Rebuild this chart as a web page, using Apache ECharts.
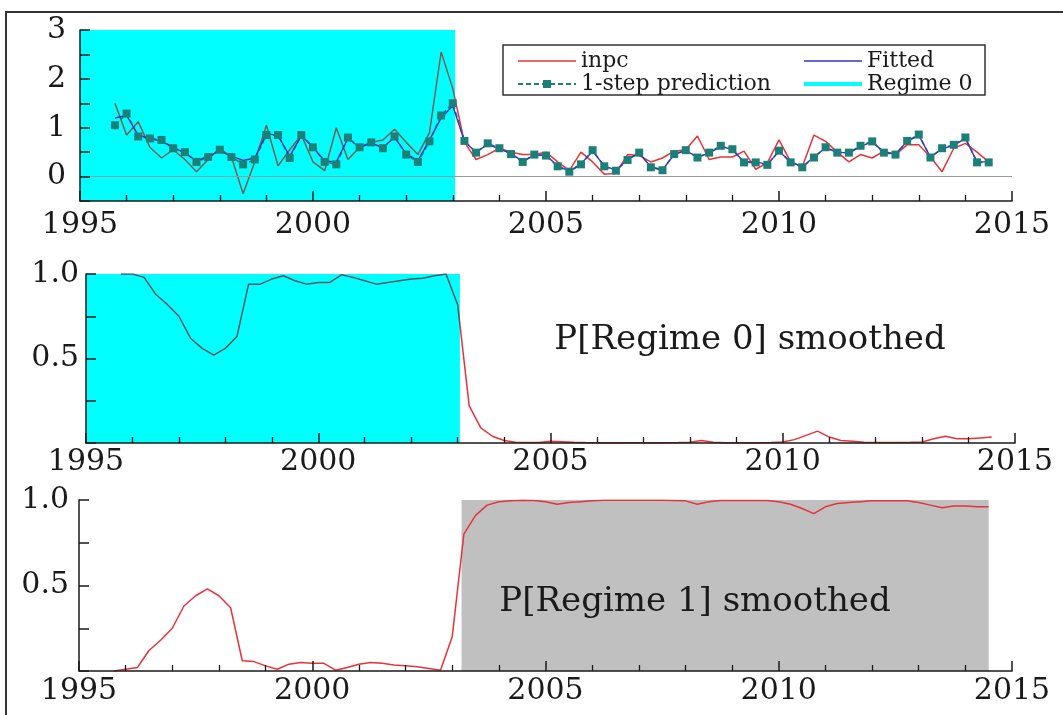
<!DOCTYPE html>
<html>
<head>
<meta charset="utf-8">
<title>inpc - regime switching</title>
<script src="https://cdn.jsdelivr.net/npm/echarts@6.0.0/dist/echarts.min.js"></script>
<style>
  html, body { margin: 0; padding: 0; background: #fff; }
  #chart { width: 1063px; height: 715px; }
</style>
</head>
<body>
<div id="chart"></div>
<script>
// quarterly observations, 1995(4) .. 2014(3)
const quarters = [
  1995.75,
  1996, 1996.25, 1996.5, 1996.75, 1997, 1997.25, 1997.5, 1997.75,
  1998, 1998.25, 1998.5, 1998.75, 1999, 1999.25, 1999.5, 1999.75,
  2000, 2000.25, 2000.5, 2000.75, 2001, 2001.25, 2001.5, 2001.75,
  2002, 2002.25, 2002.5, 2002.75, 2003, 2003.25, 2003.5, 2003.75,
  2004, 2004.25, 2004.5, 2004.75, 2005, 2005.25, 2005.5, 2005.75,
  2006, 2006.25, 2006.5, 2006.75, 2007, 2007.25, 2007.5, 2007.75,
  2008, 2008.25, 2008.5, 2008.75, 2009, 2009.25, 2009.5, 2009.75,
  2010, 2010.25, 2010.5, 2010.75, 2011, 2011.25, 2011.5, 2011.75,
  2012, 2012.25, 2012.5, 2012.75, 2013, 2013.25, 2013.5, 2013.75,
  2014, 2014.25, 2014.5
];

const inpc = [
  1.5,
  0.85, 1.12, 0.6, 0.38, 0.55, 0.35, 0.1, 0.35,
  0.58, 0.4, -0.35, 0.3, 1.05, 0.22, 0.55, 0.85,
  0.3, 0.12, 1.0, 0.35, 0.6, 0.7, 0.75, 0.97,
  0.7, 0.45, 0.9, 2.55, 1.8, 0.7, 0.35, 0.45,
  0.58, 0.5, 0.45, 0.45, 0.5, 0.3, 0.12, 0.5,
  0.3, 0.05, 0.07, 0.45, 0.43, 0.3, 0.38, 0.52,
  0.55, 0.83, 0.35, 0.4, 0.4, 0.52, 0.15, 0.28,
  0.75, 0.3, 0.2, 0.85, 0.72, 0.5, 0.3, 0.45,
  0.38, 0.52, 0.45, 0.65, 0.65, 0.4, 0.1, 0.58,
  0.68, 0.5, 0.3
];

const fitted = [
  1.2,
  1.25, 0.85, 0.78, 0.72, 0.6, 0.48, 0.32, 0.42,
  0.52, 0.42, 0.33, 0.38, 0.88, 0.84, 0.42, 0.84,
  0.6, 0.32, 0.3, 0.78, 0.6, 0.68, 0.6, 0.8,
  0.47, 0.32, 0.75, 1.2, 1.45, 0.72, 0.5, 0.66,
  0.57, 0.47, 0.31, 0.44, 0.43, 0.22, 0.11, 0.26,
  0.52, 0.22, 0.13, 0.35, 0.48, 0.2, 0.14, 0.45,
  0.53, 0.4, 0.48, 0.62, 0.55, 0.3, 0.3, 0.25,
  0.52, 0.3, 0.2, 0.4, 0.59, 0.5, 0.48, 0.62,
  0.71, 0.5, 0.46, 0.72, 0.84, 0.4, 0.57, 0.64,
  0.78, 0.3, 0.3
];

const prediction = [
  1.05,
  1.29, 0.82, 0.78, 0.75, 0.58, 0.5, 0.3, 0.4,
  0.55, 0.4, 0.25, 0.35, 0.85, 0.85, 0.38, 0.85,
  0.6, 0.3, 0.25, 0.8, 0.6, 0.7, 0.58, 0.82,
  0.45, 0.3, 0.72, 1.25, 1.5, 0.73, 0.49, 0.68,
  0.58, 0.46, 0.3, 0.45, 0.43, 0.21, 0.1, 0.25,
  0.54, 0.21, 0.12, 0.34, 0.49, 0.19, 0.13, 0.46,
  0.54, 0.39, 0.49, 0.63, 0.56, 0.29, 0.29, 0.24,
  0.53, 0.29, 0.19, 0.39, 0.6, 0.49, 0.49, 0.63,
  0.72, 0.49, 0.45, 0.73, 0.86, 0.39, 0.58, 0.65,
  0.8, 0.29, 0.29
];

const probRegime0 = [
  1.0,
  1.0, 0.98, 0.88, 0.82, 0.75, 0.62, 0.56, 0.52,
  0.56, 0.63, 0.94, 0.94, 0.97, 0.99, 0.96, 0.94,
  0.95, 0.95, 0.995, 0.98, 0.96, 0.94, 0.95, 0.96,
  0.97, 0.975, 0.99, 1.0, 0.82, 0.22, 0.09, 0.04,
  0.015, 0.005, 0.003, 0.003, 0.01, 0.008, 0.005, 0.003,
  0.002, 0.002, 0.002, 0.002, 0.002, 0.002, 0.002, 0.003,
  0.005, 0.015, 0.004, 0.002, 0.002, 0.002, 0.002, 0.003,
  0.006, 0.02, 0.045, 0.07, 0.035, 0.015, 0.01, 0.005,
  0.003, 0.003, 0.003, 0.004, 0.006, 0.025, 0.04, 0.025,
  0.025, 0.03, 0.035
];

const probRegime1 = [
  0.0,
  0.01, 0.02, 0.12, 0.18, 0.25, 0.38, 0.44, 0.48,
  0.44, 0.37, 0.06, 0.055, 0.03, 0.01, 0.04, 0.05,
  0.045, 0.045, 0.005, 0.02, 0.04, 0.05, 0.045, 0.035,
  0.03, 0.025, 0.015, 0.005, 0.2, 0.8, 0.91, 0.97,
  0.99, 0.995, 0.998, 0.997, 0.99, 0.975, 0.985, 0.99,
  0.995, 0.998, 0.998, 0.998, 0.998, 0.998, 0.998, 0.997,
  0.995, 0.975, 0.99, 0.997, 0.997, 0.997, 0.997, 0.997,
  0.99, 0.975, 0.95, 0.92, 0.96, 0.98, 0.985, 0.99,
  0.995, 0.995, 0.995, 0.995, 0.985, 0.97, 0.955, 0.965,
  0.965, 0.96, 0.96
];

const regime0Span = [1995, 2003.05];
const regime1Span = [2003.2, 2014.5];

const FONT = "DejaVu Serif";
const INK = "#1a1a1a";
const RED = "#e8323a";
const BLUE = "#3434c8";
const TEAL = "#1d8078";
const CYAN = "#00ffff";

const pairs = (vals) => quarters.map((t, i) => [t, vals[i]]);

function timeAxis(gridIndex, margin) {
  return {
    type: "value",
    gridIndex,
    min: 1995,
    max: 2015,
    interval: 5,
    z: 10,
    axisLine: { show: true, onZero: false, lineStyle: { color: INK, width: 1.5 } },
    axisTick: { show: true, inside: true, length: 10, lineStyle: { color: INK, width: 1.5 } },
    minorTick: { show: true, splitNumber: 5, length: 6, lineStyle: { color: INK, width: 1.3 } },
    axisLabel: {
      margin,
      color: INK,
      fontFamily: FONT,
      fontSize: 30,
      showMinLabel: true,
      showMaxLabel: true,
      formatter: (v) => String(v),
    },
    splitLine: { show: false },
  };
}

function valueAxis(gridIndex, min, max, interval, margin, fmt) {
  return {
    type: "value",
    gridIndex,
    min,
    max,
    interval,
    z: 10,
    axisLine: { show: true, onZero: false, lineStyle: { color: INK, width: 1.5 } },
    axisTick: { show: true, inside: true, length: 10, lineStyle: { color: INK, width: 1.5 } },
    axisLabel: { margin, color: INK, fontFamily: FONT, fontSize: 30, formatter: fmt },
    splitLine: { show: false },
  };
}

// colour a line by x position: darker inside the regime-0 shading
function regimeColouring(seriesIndex, insideColor) {
  return {
    type: "piecewise",
    show: false,
    seriesIndex,
    dimension: 0,
    pieces: [
      { gte: 1995, lt: regime0Span[1], color: insideColor },
      { gte: regime0Span[1], lte: 2015, color: RED },
    ],
  };
}

const chart = echarts.init(document.getElementById("chart"));

const legendCommon = {
  orient: "vertical",
  top: 45,
  itemWidth: 58,
  itemHeight: 10,
  itemGap: 1,
  selectedMode: false,
  textStyle: { fontFamily: FONT, fontSize: 22, color: INK },
};
const noMarker = { opacity: 0 };

chart.setOption({
  backgroundColor: "#fff",
  animation: false,
  grid: [
    { left: 80, top: 30, width: 932, height: 171 },
    { left: 86, top: 274, width: 929, height: 169 },
    { left: 79, top: 500, width: 933, height: 171 },
  ],
  xAxis: [timeAxis(0, 9), timeAxis(1, 4), timeAxis(2, 5)],
  yAxis: [
    valueAxis(0, -0.5, 3, 0.5, 14, (v) => (Number.isInteger(v) && v >= 0 ? String(v) : "")),
    valueAxis(1, 0, 1, 0.25, 7, (v) => (v === 1 ? "1.0" : v === 0.5 ? "0.5" : "")),
    valueAxis(2, 0, 1, 0.25, 10, (v) => (v === 1 ? "1.0" : v === 0.5 ? "0.5" : "")),
  ],
  legend: [
    Object.assign({}, legendCommon, {
      left: 512,
      data: [
        { name: "inpc", itemStyle: noMarker, lineStyle: { color: RED, width: 1.5 } },
        { name: "1-step prediction" },
      ],
    }),
    Object.assign({}, legendCommon, {
      left: 797,
      data: [
        { name: "Fitted", itemStyle: noMarker, lineStyle: { color: BLUE, width: 1.5 } },
        { name: "Regime 0", itemStyle: noMarker, lineStyle: { color: CYAN, width: 4 } },
      ],
    }),
  ],
  visualMap: [regimeColouring(1, "#7a5d56"), regimeColouring(4, "#4b5660")],
  graphic: [
    {
      type: "rect",
      silent: true,
      shape: { x: 6, y: 12, width: 1100, height: 800 },
      style: { fill: "none", stroke: "#333", lineWidth: 2 },
    },
    {
      type: "rect",
      silent: true,
      z: 20,
      shape: { x: 503, y: 45, width: 482, height: 50 },
      style: { fill: "none", stroke: "#333", lineWidth: 1.5 },
    },
    {
      type: "text",
      silent: true,
      z: 20,
      x: 750,
      y: 340,
      style: {
        text: "P[Regime 0] smoothed",
        fontFamily: FONT,
        fontSize: 34,
        fill: INK,
        align: "center",
        verticalAlign: "middle",
      },
    },
    {
      type: "text",
      silent: true,
      z: 20,
      x: 695,
      y: 602,
      style: {
        text: "P[Regime 1] smoothed",
        fontFamily: FONT,
        fontSize: 34,
        fill: INK,
        align: "center",
        verticalAlign: "middle",
      },
    },
  ],
  series: [
    {
      name: "Regime 0",
      type: "line",
      xAxisIndex: 0,
      yAxisIndex: 0,
      data: [],
      symbol: "none",
      color: CYAN,
      lineStyle: { color: CYAN, width: 4 },
      markArea: {
        silent: true,
        itemStyle: { color: CYAN, opacity: 1 },
        data: [[{ xAxis: regime0Span[0] }, { xAxis: regime0Span[1] }]],
      },
    },
    {
      name: "inpc",
      type: "line",
      xAxisIndex: 0,
      yAxisIndex: 0,
      data: pairs(inpc),
      symbol: "none",
      color: RED,
      lineStyle: { width: 1.5 },
      markLine: {
        silent: true,
        symbol: "none",
        label: { show: false },
        lineStyle: { color: "#9a9a9a", type: "solid", width: 1.2 },
        data: [{ yAxis: 0 }],
      },
    },
    {
      name: "1-step prediction",
      type: "line",
      xAxisIndex: 0,
      yAxisIndex: 0,
      data: pairs(prediction),
      symbol: "rect",
      symbolSize: 8,
      showAllSymbol: true,
      color: TEAL,
      itemStyle: { color: TEAL },
      lineStyle: { color: TEAL, width: 1.6, type: [5, 3] },
    },
    {
      name: "Fitted",
      type: "line",
      xAxisIndex: 0,
      yAxisIndex: 0,
      data: pairs(fitted),
      symbol: "none",
      color: BLUE,
      lineStyle: { color: BLUE, width: 1.4 },
    },
    {
      name: "P[Regime 0] smoothed",
      type: "line",
      xAxisIndex: 1,
      yAxisIndex: 1,
      data: pairs(probRegime0),
      symbol: "none",
      color: RED,
      lineStyle: { width: 1.5 },
      markArea: {
        silent: true,
        itemStyle: { color: CYAN, opacity: 1 },
        data: [[{ xAxis: regime0Span[0] }, { xAxis: regime0Span[1] }]],
      },
    },
    {
      name: "P[Regime 1] smoothed",
      type: "line",
      xAxisIndex: 2,
      yAxisIndex: 2,
      data: pairs(probRegime1),
      symbol: "none",
      color: RED,
      lineStyle: { color: RED, width: 1.5 },
      markArea: {
        silent: true,
        itemStyle: { color: "#c0c0c0", opacity: 1 },
        data: [[{ xAxis: regime1Span[0] }, { xAxis: regime1Span[1] }]],
      },
    },
  ],
});

window.addEventListener("resize", () => chart.resize());
</script>
</body>
</html>
